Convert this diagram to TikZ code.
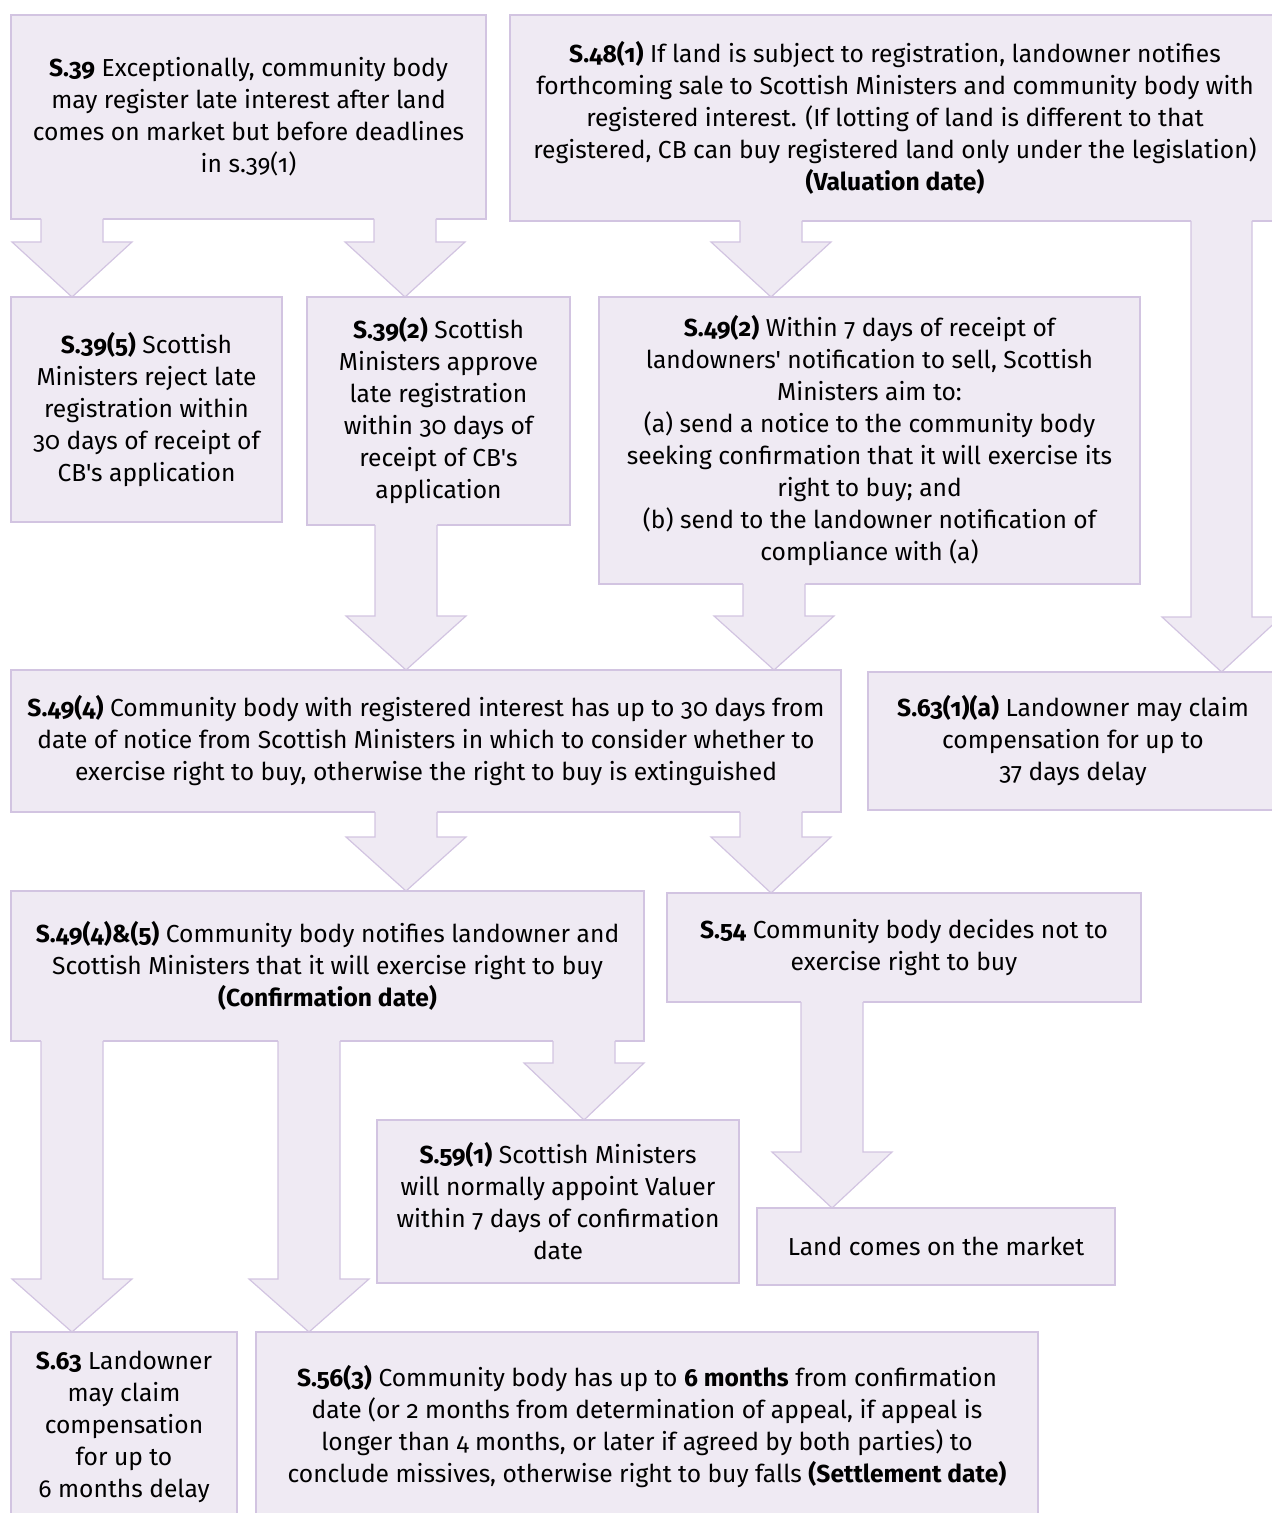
\documentclass[tikz,border=0pt]{standalone}
\usepackage{fontspec}
\setmainfont{Fira Sans}[Numbers=OldStyle, Ligatures=TeXOff]
\definecolor{boxfill}{RGB}{239,234,243}
\definecolor{boxline}{RGB}{210,196,225}
\tikzset{
  flowbox/.style 2 args={draw=boxline, fill=boxfill, line width=0.6pt,
    inner sep=0pt, outer sep=0pt, align=center,
    minimum width=#1*0.5pt, minimum height=#2*0.5pt,
    font=\fontsize{12.3}{16}\selectfont},
  afill/.style={fill=boxfill},
  aline/.style={draw=boxline, line width=0.6pt, line join=miter}
}
% src, dst, shaft left x, shaft right x, head y
\newcommand\blockarrow[5]{%
  \pgfmathsetmacro\axc{(#3+#4)/2}%
  \pgfmathsetmacro\ahl{#3-29}%
  \pgfmathsetmacro\ahr{#4+29}%
  \path (#1.south) ++(0,-3) coordinate (ssrc);
  \coordinate (xL) at (#3,0);
  \coordinate (xR) at (#4,0);
  \coordinate (xC) at (\axc,0);
  \coordinate (xHL) at (\ahl,0);
  \coordinate (xHR) at (\ahr,0);
  \coordinate (yH) at (0,#5);
  \fill[afill] (xL |- ssrc) -- (xL |- yH) -- (xHL |- yH) -- (xC |- #2.north)
     -- (xHR |- yH) -- (xR |- yH) -- (xR |- ssrc) -- cycle;
  \draw[aline] (xL |- #1.south) -- (xL |- yH) -- (xHL |- yH) -- (xC |- #2.north)
     -- (xHR |- yH) -- (xR |- yH) -- (xR |- #1.south);
}
\begin{document}
\begin{tikzpicture}[x=0.5pt,y=-0.5pt]
\useasboundingbox (0,0) rectangle (1272,1513);
\clip (0,0) rectangle (1272,1513);

\node[flowbox={475}{204}] (A) at (248.5,117) {\textbf{S.39} Exceptionally, community body\\ may register late interest after land\\ comes on market but before deadlines\\ in s.39(1)};
\node[flowbox={770}{206}] (D) at (895,118) {\textbf{S.48(1)} If land is subject to registration, landowner notifies\\ forthcoming sale to Scottish Ministers and community body with\\ registered interest. (If lotting of land is different to that\\ registered, CB can buy registered land only under the legislation)\\ \textbf{(Valuation date)}};
\node[flowbox={271}{225}] (B) at (146.5,409.5) {\textbf{S.39(5)} Scottish\\ Ministers reject late\\ registration within\\ 30 days of receipt of\\ CB's application};
\node[flowbox={263}{228}] (C) at (438.5,411) {\textbf{S.39(2)} Scottish\\ Ministers approve\\ late registration\\ within 30 days of\\ receipt of CB's\\ application};
\node[flowbox={541}{287}] (E) at (869.5,440.5) {\textbf{S.49(2)} Within 7 days of receipt of\\ landowners' notification to sell, Scottish\\ Ministers aim to:\\ (a) send a notice to the community body\\ seeking confirmation that it will exercise its\\ right to buy; and\\ (b) send to the landowner notification of\\ compliance with (a)};
\node[flowbox={410}{138}] (F) at (1073,741) {\textbf{S.63(1)(a)} Landowner may claim\\ compensation for up to\\ 37 days delay};
\node[flowbox={830}{142}] (G) at (426,741) {\textbf{S.49(4)} Community body with registered interest has up to 30 days from\\ date of notice from Scottish Ministers in which to consider whether to\\ exercise right to buy, otherwise the right to buy is extinguished};
\node[flowbox={633}{150}] (H) at (327.5,966) {\textbf{S.49(4)\&(5)} Community body notifies landowner and\\ Scottish Ministers that it will exercise right to buy\\ \textbf{(Confirmation date)}};
\node[flowbox={474}{109}] (J) at (904,947.5) {\textbf{S.54} Community body decides not to\\ exercise right to buy};
\node[flowbox={362}{163}] (I) at (558,1201.5) {\textbf{S.59(1)} Scottish Ministers\\ will normally appoint Valuer\\ within 7 days of confirmation\\ date};
\node[flowbox={358}{77}] (K) at (936,1246.5) {Land comes on the market};
\node[flowbox={226}{190}] (L) at (124,1427) {\textbf{S.63} Landowner\\ may claim\\ compensation\\ for up to\\ 6 months delay};
\node[flowbox={782}{190}] (M) at (647,1427) {\textbf{S.56(3)} Community body has up to \textbf{6 months} from confirmation\\ date (or 2 months from determination of appeal, if appeal is\\ longer than 4 months, or later if agreed by both parties) to\\ conclude missives, otherwise right to buy falls \textbf{(Settlement date)}};

\blockarrow{A}{B}{41}{103}{242}
\blockarrow{A}{C}{374}{436}{242}
\blockarrow{D}{E}{740}{802}{242}
\blockarrow{D}{F}{1191}{1252}{617}
\blockarrow{C}{G}{375}{437}{616}
\blockarrow{E}{G}{743}{805}{616}
\blockarrow{G}{H}{375}{437}{837}
\blockarrow{G}{J}{740}{802}{837}
\blockarrow{H}{L}{41}{103}{1279}
\blockarrow{H}{M}{278}{340}{1279}
\blockarrow{H}{I}{553}{615}{1063}
\blockarrow{J}{K}{801}{863}{1152}
\end{tikzpicture}
\end{document}
